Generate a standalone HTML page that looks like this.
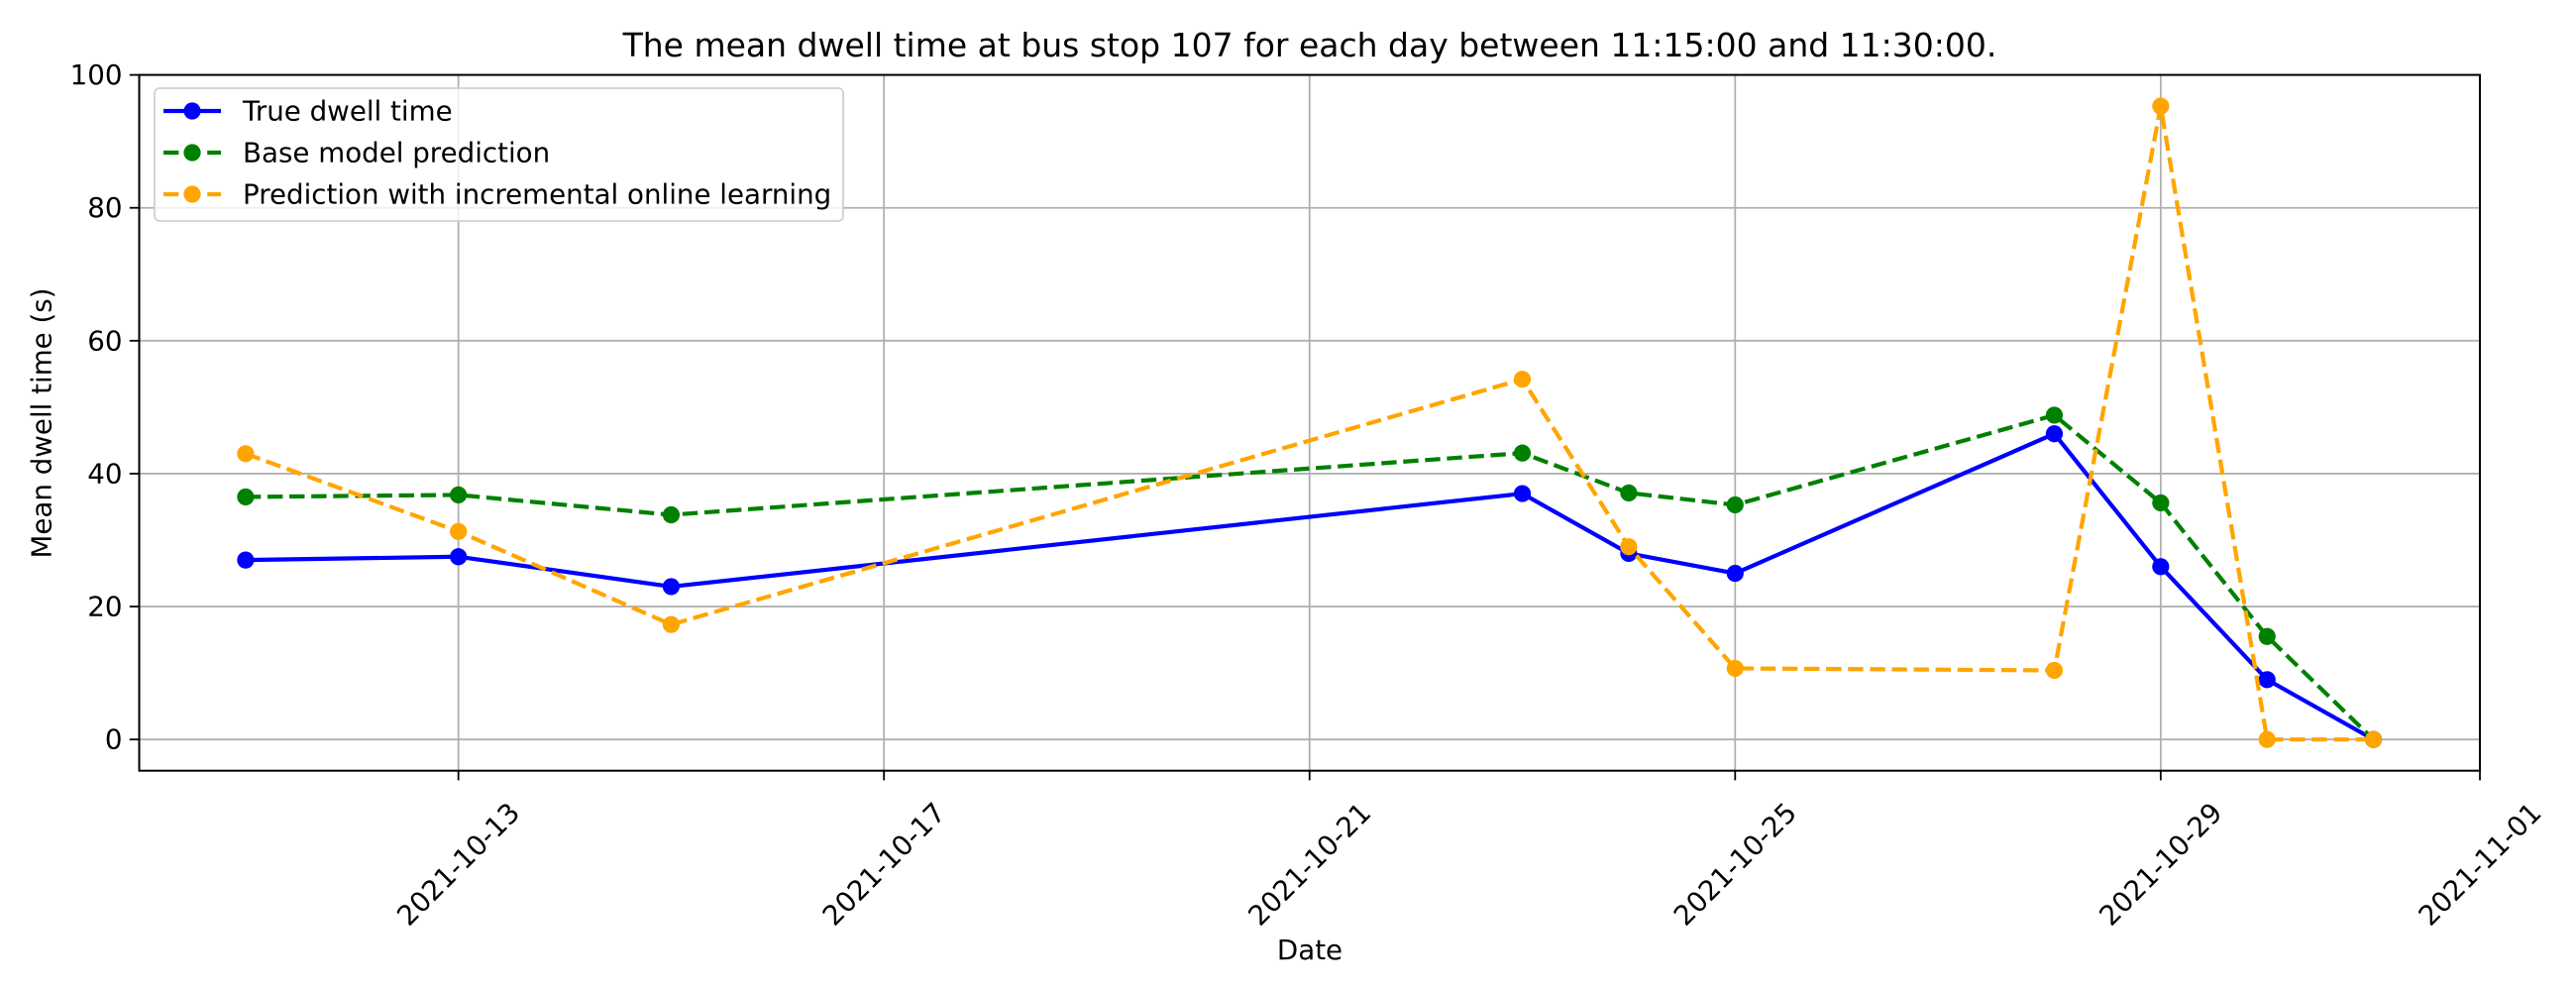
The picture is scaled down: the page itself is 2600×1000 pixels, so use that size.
<!DOCTYPE html>
<html><head><meta charset="utf-8"><style>
html,body{margin:0;padding:0;background:#fff;}
svg{display:block;font-family:"DejaVu Sans","Liberation Sans",sans-serif;}
</style></head><body>
<svg id="chart" width="2600" height="1000" viewBox="0 0 2600 1000"></svg>
<script>
const dates = ["2021-10-11","2021-10-13","2021-10-15","2021-10-23","2021-10-24","2021-10-25","2021-10-28","2021-10-29","2021-10-30","2021-10-31"];
const trueVals = [27,27.5,23,37,28,25,46,26,9,0];
const baseVals = [36.5,36.8,33.8,43.1,37.1,35.3,48.8,35.6,15.5,0];
const onlineVals = [43,31.3,17.3,54.2,29,10.7,10.4,95.3,0,0];
const xTickLabels = ["2021-10-13","2021-10-17","2021-10-21","2021-10-25","2021-10-29","2021-11-01"];
const yTicks = [0,20,40,60,80,100];

const L=140.5,R=2503,T=75.6,B=777.7;
const x0=Date.UTC(2021,9,10), x1=Date.UTC(2021,10,1);
const ymin=-4.7, ymax=100;
function parseD(s){const p=s.split('-').map(Number);return Date.UTC(p[0],p[1]-1,p[2]);}
function xs(s){return L+(parseD(s)-x0)/(x1-x0)*(R-L);}
function ys(v){return B-(v-ymin)/(ymax-ymin)*(B-T);}
const NS="http://www.w3.org/2000/svg";
const svg=document.getElementById('chart');
function mk(tag,attrs,parent){const e=document.createElementNS(NS,tag);for(const k in attrs)e.setAttribute(k,attrs[k]);(parent||svg).appendChild(e);return e;}
const FS=27.7, DASH='15.4 6.7', LW=4.2, MR=8.6;

xTickLabels.forEach(t=>{
  const x=xs(t);
  const g=mk('line',{x1:x,x2:x,y1:T,y2:B,stroke:'#b0b0b0','stroke-width':1.8});
  
  
  const tk=mk('line',{x1:x,x2:x,y1:B,y2:B+9.7,stroke:'#000','stroke-width':1.8});
  
  
  const tx=mk('text',{x:0,y:0,'font-size':FS,'text-anchor':'middle','dominant-baseline':'central',transform:`translate(${x},872) rotate(-45)`});
  tx.textContent=t;
  
  
});
yTicks.forEach(v=>{
  const y=ys(v);
  const g=mk('line',{x1:L,x2:R,y1:y,y2:y,stroke:'#b0b0b0','stroke-width':1.8});
  
  
  const tk=mk('line',{x1:L-9.7,x2:L,y1:y,y2:y,stroke:'#000','stroke-width':1.8});
  
  
  const tx=mk('text',{x:L-17,y:y,'font-size':FS,'text-anchor':'end','dominant-baseline':'central'});
  tx.textContent=v;
  
  
});

function series(vals,color,dash,name){
  const g=mk('g',{});
  
  
  const pts=vals.map((v,i)=>xs(dates[i])+','+ys(v)).join(' ');
  const pl=mk('polyline',{points:pts,fill:'none',stroke:color,'stroke-width':LW,'stroke-dasharray':dash||'none','stroke-linejoin':'round'},g);
  
  
  vals.forEach((v,i)=>{
    const c=mk('circle',{cx:xs(dates[i]),cy:ys(v),r:MR,fill:color},g);
    
    
  });
}
series(trueVals,'#0000ff',null,'true-dwell-series');
series(baseVals,'#008000',DASH,'base-model-series');
series(onlineVals,'#ffa500',DASH,'online-learning-series');

const fr=mk('rect',{x:L,y:T,width:R-L,height:B-T,fill:'none',stroke:'#000','stroke-width':2});



const lg=mk('g',{});


mk('rect',{x:156,y:89,width:695,height:134,rx:5,fill:'#fff','fill-opacity':0.8,stroke:'#d0d0d0','stroke-width':1.8},lg);
const legItems=[["True dwell time","#0000ff",null,112],["Base model prediction","#008000",DASH,154],["Prediction with incremental online learning","#ffa500",DASH,196]];
legItems.forEach(it=>{
  const e=mk('g',{},lg);
  
  
  mk('line',{x1:165,x2:223,y1:it[3],y2:it[3],stroke:it[1],'stroke-width':LW,'stroke-dasharray':it[2]||'none'},e);
  mk('circle',{cx:194,cy:it[3],r:MR,fill:it[1]},e);
  const t=mk('text',{x:245,y:it[3],'font-size':FS,'dominant-baseline':'central'},e);
  t.textContent=it[0];
});
</script>
<div style="position:absolute;left:0;top:0;width:2600px;height:1000px;pointer-events:none;font-family:'DejaVu Sans','Liberation Sans',sans-serif;">
  <div style="position:absolute;left:1322px;top:26px;transform:translateX(-50%);font-size:33px;white-space:nowrap;">The mean dwell time at bus stop 107 for each day between 11:15:00 and 11:30:00.</div>
  <div style="position:absolute;left:1322px;top:942px;transform:translateX(-50%);font-size:27.7px;">Date</div>
  <div style="position:absolute;left:42px;top:427px;transform:translate(-50%,-50%) rotate(-90deg);font-size:27.7px;white-space:nowrap;">Mean dwell time (s)</div>
</div>
</body></html>
